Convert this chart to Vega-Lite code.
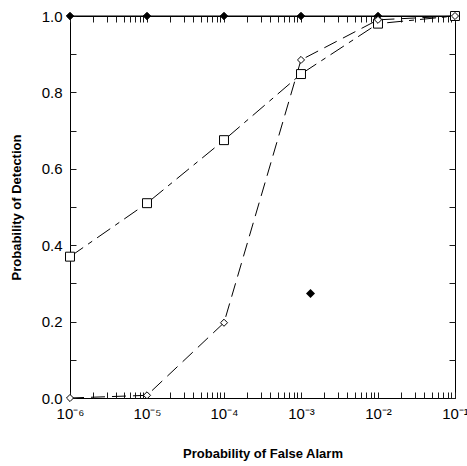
{
  "$schema": "https://vega.github.io/schema/vega-lite/v6.json",
  "autosize": "none",
  "width": 385,
  "height": 382,
  "padding": {"left": 70, "top": 16, "right": 12, "bottom": 68},
  "background": "white",
  "config": {
    "view": {"stroke": "black", "strokeWidth": 1},
    "font": "Liberation Sans",
    "axis": {"grid": false, "domain": false, "labelColor": "black", "titleColor": "black", "labelFont": "Liberation Sans", "titleFont": "Liberation Sans", "labelFontSize": 15, "titleFontSize": 13, "titleFontWeight": "bold"}
  },
  "data": {
    "values": [
      {"x": 0.000001, "y": 1.0, "series": "Blue Car 1"},
      {"x": 0.00001, "y": 1.0, "series": "Blue Car 1"},
      {"x": 0.0001, "y": 1.0, "series": "Blue Car 1"},
      {"x": 0.001, "y": 1.0, "series": "Blue Car 1"},
      {"x": 0.01, "y": 1.0, "series": "Blue Car 1"},
      {"x": 0.1, "y": 1.0, "series": "Blue Car 1"},
      {"x": 0.000001, "y": 0.37, "series": "Blue Car 2"},
      {"x": 0.00001, "y": 0.51, "series": "Blue Car 2"},
      {"x": 0.0001, "y": 0.675, "series": "Blue Car 2"},
      {"x": 0.001, "y": 0.848, "series": "Blue Car 2"},
      {"x": 0.01, "y": 0.98, "series": "Blue Car 2"},
      {"x": 0.1, "y": 1.0, "series": "Blue Car 2"},
      {"x": 0.000001, "y": 0.0, "series": "Green Car 1"},
      {"x": 0.00001, "y": 0.007, "series": "Green Car 1"},
      {"x": 0.0001, "y": 0.197, "series": "Green Car 1"},
      {"x": 0.001, "y": 0.885, "series": "Green Car 1"},
      {"x": 0.01, "y": 0.99, "series": "Green Car 1"},
      {"x": 0.1, "y": 1.0, "series": "Green Car 1"}
    ]
  },
  "resolve": {"axis": {"x": "independent", "y": "independent"}},
  "layer": [
    {
      "transform": [{"filter": "datum.series === 'Blue Car 1'"}],
      "mark": {"type": "line", "color": "black", "strokeWidth": 1, "clip": false},
      "encoding": {
        "x": {"field": "x", "type": "quantitative", "scale": {"type": "log", "domain": [0.000001, 0.1], "nice": false},
          "axis": {"orient": "bottom", "tickSize": -6, "tickColor": "#1a1a1a", "labelPadding": 14, "labelFlush": false, "labelOverlap": false,
            "labelExpr": "abs(log(datum.value)/LN10 - round(log(datum.value)/LN10)) < 0.001 ? ['10⁻⁶','10⁻⁵','10⁻⁴','10⁻³','10⁻²','10⁻¹'][round(log(datum.value)/LN10) + 6] : ''",
            "title": "Probability of False Alarm", "titlePadding": 26}},
        "y": {"field": "y", "type": "quantitative", "scale": {"domain": [0, 1], "nice": false, "zero": false},
          "axis": {"orient": "left", "tickSize": -6, "tickColor": "#1a1a1a", "labelPadding": 14, "labelFlush": false, "labelOverlap": false,
            "labelExpr": "abs(datum.value * 5 - round(datum.value * 5)) < 0.001 ? format(datum.value, '.1f') : ''",
            "title": "Probability of Detection", "titlePadding": 18}},
        "strokeDash": {"field": "series", "type": "nominal", "legend": null}
      }
    },
    {
      "transform": [{"filter": "datum.series !== 'Blue Car 1'"}],
      "mark": {"type": "line", "color": "black", "strokeWidth": 1, "clip": false},
      "encoding": {
        "x": {"field": "x", "type": "quantitative", "axis": null},
        "y": {"field": "y", "type": "quantitative", "axis": null},
        "strokeDash": {"field": "series", "type": "nominal", "scale": {"range": [[1, 0], [16, 6, 5, 6], [14, 7]]},
          "legend": {"orient": "none", "legendX": 204, "legendY": 264, "zindex": 2, "title": null, "strokeColor": "black", "fillColor": "white", "padding": 6,
            "labelFont": "Liberation Sans", "labelFontSize": 15, "labelColor": "black", "symbolType": "M-2.9,0H2.9", "symbolSize": 225, "symbolOffset": 20, "labelOffset": 18, "rowPadding": 8,
            "symbolStrokeColor": "black", "symbolStrokeWidth": 1}}
      }
    },
    {
      "transform": [{"filter": "datum.series === 'Blue Car 1'"}],
      "mark": {"type": "point", "filled": true, "stroke": "black", "strokeWidth": 1, "opacity": 1, "size": 55, "clip": false},
      "encoding": {
        "x": {"field": "x", "type": "quantitative",
          "axis": {"orient": "top", "tickSize": -6, "tickColor": "#1a1a1a", "labels": false, "title": null}},
        "y": {"field": "y", "type": "quantitative",
          "axis": {"orient": "right", "tickSize": -6, "tickColor": "#1a1a1a", "labels": false, "title": null}},
        "fill": {"field": "series", "type": "nominal", "scale": {"domain": ["Blue Car 1", "Blue Car 2", "Green Car 1"], "range": ["black", "white", "white"]},
          "legend": {"orient": "none", "legendX": 204, "legendY": 264, "zindex": 3, "title": null, "padding": 6,
            "labelFont": "Liberation Sans", "labelFontSize": 15, "labelOpacity": 0, "symbolSize": 81, "symbolOffset": 23, "labelOffset": 18, "rowPadding": 8,
            "symbolStrokeColor": "black", "symbolStrokeWidth": 1, "symbolOpacity": 1}},
        "shape": {"field": "series", "type": "nominal", "scale": {"domain": ["Blue Car 1", "Blue Car 2", "Green Car 1"], "range": ["diamond", "square", "diamond"]},
          "legend": {"orient": "none", "legendX": 204, "legendY": 264, "zindex": 3, "title": null, "padding": 6,
            "labelFont": "Liberation Sans", "labelFontSize": 15, "labelOpacity": 0, "symbolSize": 81, "symbolOffset": 23, "labelOffset": 18, "rowPadding": 8,
            "symbolStrokeColor": "black", "symbolStrokeWidth": 1, "symbolOpacity": 1}}
      }
    },
    {
      "transform": [{"filter": "datum.series !== 'Blue Car 1'"}],
      "mark": {"type": "point", "filled": true, "stroke": "black", "strokeWidth": 1, "opacity": 1, "clip": false},
      "encoding": {
        "x": {"field": "x", "type": "quantitative", "axis": null},
        "y": {"field": "y", "type": "quantitative", "axis": null},
        "fill": {"field": "series", "type": "nominal", "legend": null},
        "shape": {"field": "series", "type": "nominal", "legend": null},
        "size": {"field": "series", "type": "nominal", "scale": {"domain": ["Blue Car 2", "Green Car 1"], "range": [80, 50]}, "legend": null}
      }
    }
  ]
}
